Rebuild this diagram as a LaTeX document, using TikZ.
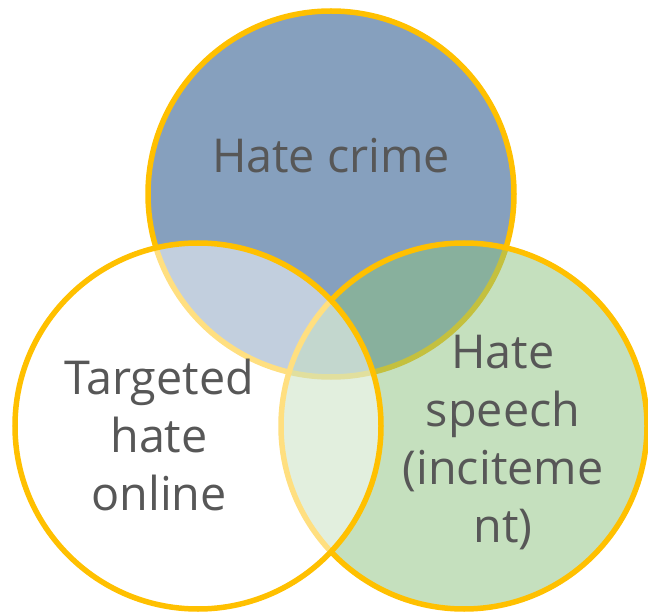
\documentclass[tikz,border=0pt]{standalone}
\usepackage{fontspec}
\setmainfont{Open Sans}
\definecolor{ringgold}{HTML}{FFC000}
\definecolor{topblue}{HTML}{86A0BE}
\definecolor{rgreen}{HTML}{8BC17D}
\definecolor{txtgray}{HTML}{575757}
\begin{document}
\begin{tikzpicture}[x=1pt,y=-1pt,
  ring/.style={draw=ringgold, line width=5.5pt},
  lbl/.style={text=txtgray, font=\fontsize{46.7}{57.8}\selectfont, align=center, inner sep=0pt, anchor=base}]
\useasboundingbox (0,0) rectangle (648,612);
\path[ring, fill=topblue] (331,194) circle[radius=183];
\path[ring, fill=rgreen, fill opacity=0.5] (464,426) circle[radius=183];
\path[ring, fill=white, fill opacity=0.5] (198,426) circle[radius=183];
\node[lbl] (crime) at (331,173) {Hate crime};
\node[lbl] (online) at (159,510) {Targeted\\hate\\online};
\node[lbl] (speech) at (503,542) {Hate\\speech\\(inciteme\\nt)};
\end{tikzpicture}
\end{document}
